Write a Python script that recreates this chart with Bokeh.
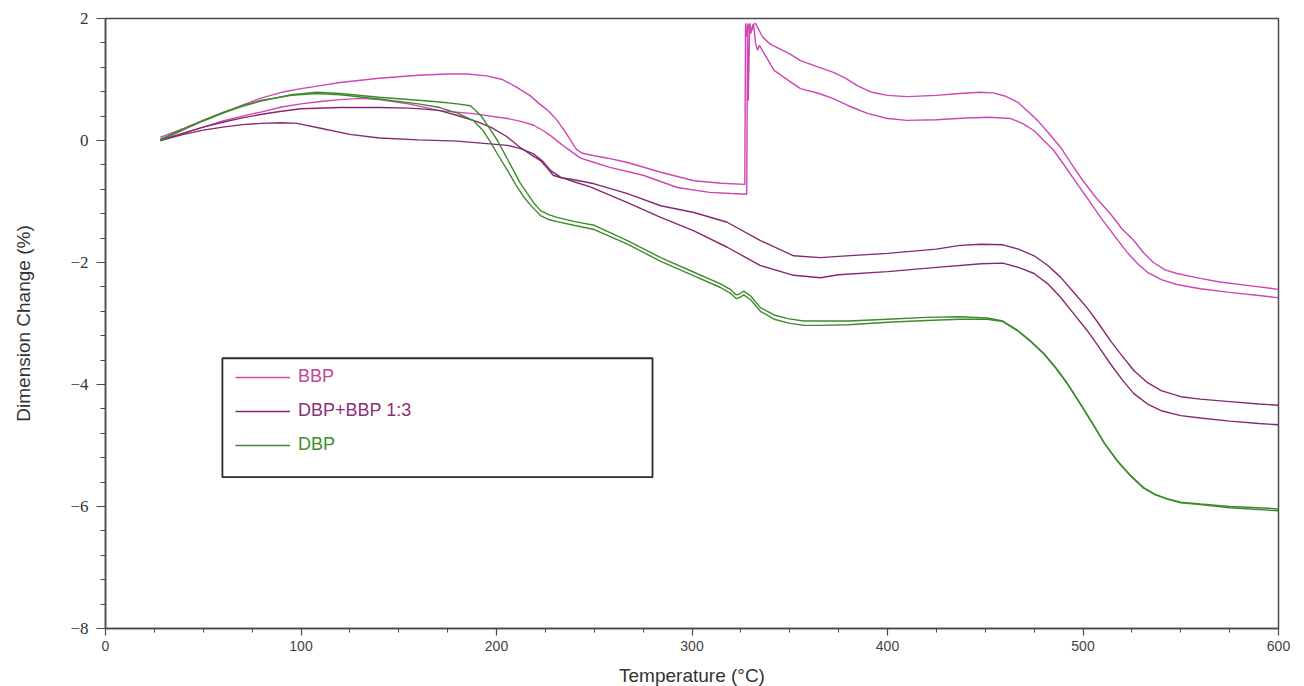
from bokeh.plotting import figure
from bokeh.models import FixedTicker, Legend, LegendItem, BoxAnnotation, Range1d
from bokeh.embed import file_html
from bokeh.resources import INLINE

# ---------------- data ----------------
bbp_a_t = [28, 40, 50, 60, 70, 80, 90, 100, 110, 120,
           140, 160, 175, 185, 195, 203, 210, 217, 222, 227,
           231, 235, 239, 241, 244, 250, 257, 267, 284, 301,
           315, 327, 327.4, 328.2, 329.0, 330.0, 331.2, 332.5, 336, 340,
           350, 355.5, 365, 372, 378, 385, 392, 400, 410, 425,
           437, 447, 454, 460, 466.5, 471, 476.7, 482, 488.5, 494,
           500, 507, 514, 520, 526, 531, 536, 542, 548, 560,
           570, 585, 600]
bbp_a_v = [0.05, 0.2, 0.33, 0.45, 0.58, 0.7, 0.79, 0.85, 0.9, 0.95,
           1.02, 1.07, 1.09, 1.09, 1.06, 1.0, 0.88, 0.74, 0.6, 0.47,
           0.33, 0.15, -0.05, -0.15, -0.21, -0.25, -0.29, -0.36, -0.52, -0.66,
           -0.7, -0.72, 1.92, 1.7, 1.9, 1.75, 1.9, 1.92, 1.7, 1.58,
           1.42, 1.31, 1.2, 1.12, 1.03, 0.89, 0.79, 0.74, 0.72, 0.74,
           0.77, 0.79, 0.78, 0.73, 0.63, 0.5, 0.33, 0.14, -0.11, -0.38,
           -0.66, -0.95, -1.2, -1.45, -1.64, -1.84, -2.0, -2.12, -2.18, -2.26,
           -2.32, -2.38, -2.44]

bbp_b_t = [28, 40, 50, 60, 70, 80, 90, 100, 110, 120,
           130, 140, 155, 171, 188, 205.6, 213, 219, 224, 227.6,
           232, 236, 243, 250, 258, 275, 292.5, 309, 320, 328,
           328.4, 328.8, 329.5, 330.5, 331.5, 332.5, 333.5, 334.5, 337, 342,
           350, 355.5, 365, 372, 380, 390, 400, 410, 425, 440,
           452, 463, 469, 475, 480, 485, 491, 497, 503, 509,
           516, 523, 528, 533, 540, 548, 560, 575, 590, 600]
bbp_b_v = [0.0, 0.12, 0.22, 0.32, 0.4, 0.47, 0.55, 0.6, 0.64, 0.67,
           0.69, 0.67, 0.6, 0.49, 0.44, 0.36, 0.31, 0.25, 0.16, 0.08,
           -0.03, -0.13, -0.29, -0.36, -0.44, -0.57, -0.77, -0.85, -0.87, -0.88,
           1.92, 0.65, 1.92, 1.8, 1.9, 1.6, 1.48, 1.56, 1.42, 1.15,
           0.97, 0.85, 0.77, 0.69, 0.57, 0.44, 0.36, 0.33, 0.34, 0.37,
           0.38, 0.36, 0.28, 0.16, 0.0, -0.16, -0.43, -0.71, -0.98, -1.26,
           -1.56, -1.85, -2.02, -2.16, -2.28, -2.36, -2.43, -2.49, -2.54, -2.58]

mix_a_t = [28, 40, 50, 60, 70, 80, 90, 100, 120, 140,
           155, 165, 171, 180, 190, 197, 205, 212, 218, 222.5,
           226, 229, 233, 239, 250, 267, 284, 301, 318, 335,
           352, 365.7, 375, 400, 425, 437, 448, 459, 467, 475,
           482, 488.5, 495, 502, 508, 514, 520, 526, 533, 540,
           550, 560, 575, 590, 600]
mix_a_v = [0.0, 0.12, 0.22, 0.3, 0.37, 0.43, 0.48, 0.52, 0.54, 0.54,
           0.53, 0.51, 0.49, 0.41, 0.31, 0.22, 0.07, -0.11, -0.24, -0.33,
           -0.45, -0.57, -0.61, -0.64, -0.71, -0.87, -1.07, -1.18, -1.34, -1.64,
           -1.89, -1.92, -1.9, -1.85, -1.78, -1.72, -1.7, -1.71, -1.78, -1.89,
           -2.05, -2.24, -2.48, -2.74, -3.0, -3.28, -3.53, -3.77, -3.97, -4.1,
           -4.2, -4.24, -4.28, -4.32, -4.34]

mix_b_t = [28, 40, 50, 60, 70, 80, 90, 98, 110, 125,
           140, 160, 180, 205.6, 212, 219, 224, 227.6, 232.7, 240,
           248, 267, 284, 301, 318, 335, 352, 365.7, 375, 400,
           425, 448, 459, 467, 475, 482, 488.5, 495, 502, 508,
           514, 520, 526, 533, 540, 550, 560, 575, 590, 600]
mix_b_v = [0.0, 0.1, 0.17, 0.22, 0.26, 0.28, 0.29, 0.28, 0.2, 0.1,
           0.04, 0.01, -0.01, -0.08, -0.13, -0.22, -0.35, -0.49, -0.6, -0.68,
           -0.76, -1.02, -1.26, -1.48, -1.75, -2.05, -2.21, -2.25, -2.2, -2.15,
           -2.08, -2.02, -2.01, -2.08, -2.18, -2.35, -2.57, -2.83, -3.11, -3.38,
           -3.66, -3.92, -4.15, -4.32, -4.43, -4.51, -4.55, -4.6, -4.64, -4.66]

dbp_a_t = [28, 40, 50, 60, 70, 80, 95, 108, 120, 140,
           160, 171, 180, 186.7, 192, 196, 200.5, 204.5, 208.7, 212,
           215.8, 219, 222.5, 227, 231, 240, 250, 267, 284, 301,
           314.6, 320, 322.5, 324, 326.5, 330, 335, 342, 349, 357,
           365.7, 380, 400, 420, 437, 451, 459, 466.5, 473, 480,
           486, 492, 498, 505, 511, 517.6, 524, 531, 537, 543,
           550, 560, 575, 590, 600]
dbp_a_v = [0.0, 0.18, 0.32, 0.45, 0.56, 0.65, 0.75, 0.79, 0.77, 0.71,
           0.66, 0.63, 0.6, 0.57, 0.41, 0.22, 0.0, -0.24, -0.49, -0.69,
           -0.87, -1.02, -1.15, -1.22, -1.26, -1.33, -1.39, -1.64, -1.92, -2.16,
           -2.35, -2.45, -2.53, -2.52, -2.47, -2.55, -2.74, -2.86, -2.92, -2.96,
           -2.96, -2.96, -2.93, -2.9, -2.89, -2.91, -2.96, -3.11, -3.28, -3.49,
           -3.72, -3.98, -4.28, -4.64, -4.96, -5.25, -5.48, -5.69, -5.8, -5.87,
           -5.93, -5.96, -6.0, -6.02, -6.04]

dbp_b_t = [28, 40, 50, 60, 70, 80, 95, 108, 120, 140,
           160, 171, 180, 188, 193, 197, 201, 205.6, 210, 214,
           218, 222.5, 227, 231, 239.5, 250, 267, 284, 301, 314.6,
           320, 322.5, 324, 326.5, 330, 335, 342, 349, 357, 365.7,
           380, 400, 420, 437, 451, 459, 466.5, 473, 480, 486,
           492, 498, 505, 511, 517.6, 524, 531, 537, 543, 550,
           560, 575, 590, 600]
dbp_b_v = [0.02, 0.19, 0.33, 0.46, 0.57, 0.66, 0.74, 0.77, 0.75, 0.68,
           0.6, 0.54, 0.45, 0.33, 0.17, -0.03, -0.25, -0.49, -0.73, -0.93,
           -1.08, -1.23, -1.3, -1.33, -1.39, -1.46, -1.7, -1.98, -2.22, -2.41,
           -2.51, -2.59, -2.58, -2.53, -2.61, -2.8, -2.93, -2.99, -3.03, -3.03,
           -3.02, -2.98, -2.95, -2.93, -2.93, -2.97, -3.12, -3.29, -3.5, -3.73,
           -3.99, -4.29, -4.65, -4.97, -5.26, -5.49, -5.7, -5.81, -5.88, -5.94,
           -5.97, -6.02, -6.05, -6.07]

series_names = ["BBP", "DBP+BBP 1:3", "DBP"]
x_ticks = [0, 100, 200, 300, 400, 500, 600]
y_ticks = [-8, -6, -4, -2, 0, 2]
y_tick_labels = ["\u22128", "\u22126", "\u22124", "\u22122", "0", "2"]

for a, b in [(bbp_a_t, bbp_a_v), (bbp_b_t, bbp_b_v), (mix_a_t, mix_a_v),
             (mix_b_t, mix_b_v), (dbp_a_t, dbp_a_v), (dbp_b_t, dbp_b_v)]:
    assert len(a) == len(b), (len(a), len(b))

# ---------------- styles ----------------
c_bbp = "#cf45b4"
c_mix = "#84296f"
c_dbp = "#3f8a2e"
txt_bbp = "#c2449f"
txt_mix = "#8a2f78"
txt_dbp = "#3d8f33"
axis_col = "#4a4a4a"

p = figure(frame_width=1173, frame_height=610, output_backend="svg", toolbar_location=None,
           x_range=Range1d(0, 600), y_range=Range1d(-8, 2),
           min_border_left=105, min_border_right=26, min_border_top=18, min_border_bottom=58,
           background_fill_color="white", border_fill_color="white")
p.xgrid.visible = False
p.ygrid.visible = False
p.outline_line_color = axis_col
p.outline_line_width = 1.5

lw = 1.4
r_bbp = p.line(bbp_a_t, bbp_a_v, line_color=c_bbp, line_width=lw)
p.line(bbp_b_t, bbp_b_v, line_color=c_bbp, line_width=lw)
r_mix = p.line(mix_a_t, mix_a_v, line_color=c_mix, line_width=lw)
p.line(mix_b_t, mix_b_v, line_color=c_mix, line_width=lw)
r_dbp = p.line(dbp_a_t, dbp_a_v, line_color=c_dbp, line_width=lw)
p.line(dbp_b_t, dbp_b_v, line_color=c_dbp, line_width=lw)

# axes
p.xaxis.ticker = FixedTicker(ticks=x_ticks, minor_ticks=list(range(0, 601, 25)))
p.yaxis.ticker = FixedTicker(ticks=y_ticks, minor_ticks=[-8 + 0.4 * i for i in range(26)])
p.yaxis.major_label_overrides = {t: l for t, l in zip(y_ticks, y_tick_labels)}
for ax in (p.xaxis, p.yaxis):
    ax.axis_line_color = axis_col
    ax.axis_line_width = 1.5
    ax.major_tick_line_color = axis_col
    ax.minor_tick_line_color = axis_col
    ax.major_tick_line_width = 1.2
    ax.minor_tick_line_width = 1.0
    ax.major_tick_in = 0
    ax.minor_tick_in = 0
    ax.axis_label_text_font = "Liberation Sans"
    ax.axis_label_text_font_style = "normal"
    ax.axis_label_text_font_size = "19px"
    ax.axis_label_text_color = "#333333"
p.xaxis.major_tick_out = 7
p.xaxis.minor_tick_out = 4
p.yaxis.major_tick_out = 9
p.yaxis.minor_tick_out = 5
p.xaxis.major_label_text_font = "Liberation Sans"
p.xaxis.major_label_text_font_size = "14px"
p.xaxis.major_label_text_color = "#444444"
p.xaxis.major_label_standoff = 5
p.yaxis.major_label_text_font = "Liberation Serif"
p.yaxis.major_label_text_font_size = "17px"
p.yaxis.major_label_text_color = "#333333"
p.yaxis.major_label_standoff = 8
p.xaxis.axis_label = "Temperature (\u00b0C)"
p.yaxis.axis_label = "Dimension Change (%)"
p.xaxis.axis_label_standoff = 11
p.yaxis.axis_label_standoff = 33

# legend box
box = BoxAnnotation(left=59.8, right=279.8, top=-3.57, bottom=-5.52,
                    fill_color="white", fill_alpha=1.0, line_color="#2b2b2b",
                    line_alpha=1.0, line_width=1.8, level="overlay")
p.add_layout(box)

for r, name, col, ypos in [(r_bbp, series_names[0], txt_bbp, 241),
                           (r_mix, series_names[1], txt_mix, 207),
                           (r_dbp, series_names[2], txt_dbp, 173)]:
    lg = Legend(items=[LegendItem(label=name, renderers=[r])], location=(130, ypos),
                border_line_color=None, background_fill_alpha=0.0,
                padding=0, margin=0, glyph_width=55, glyph_height=20, label_height=20,
                label_standoff=8, label_text_font="Liberation Sans",
                label_text_font_size="18px", label_text_color=col, level="overlay")
    p.add_layout(lg)

open("out.html", "w").write(file_html(p, INLINE))
